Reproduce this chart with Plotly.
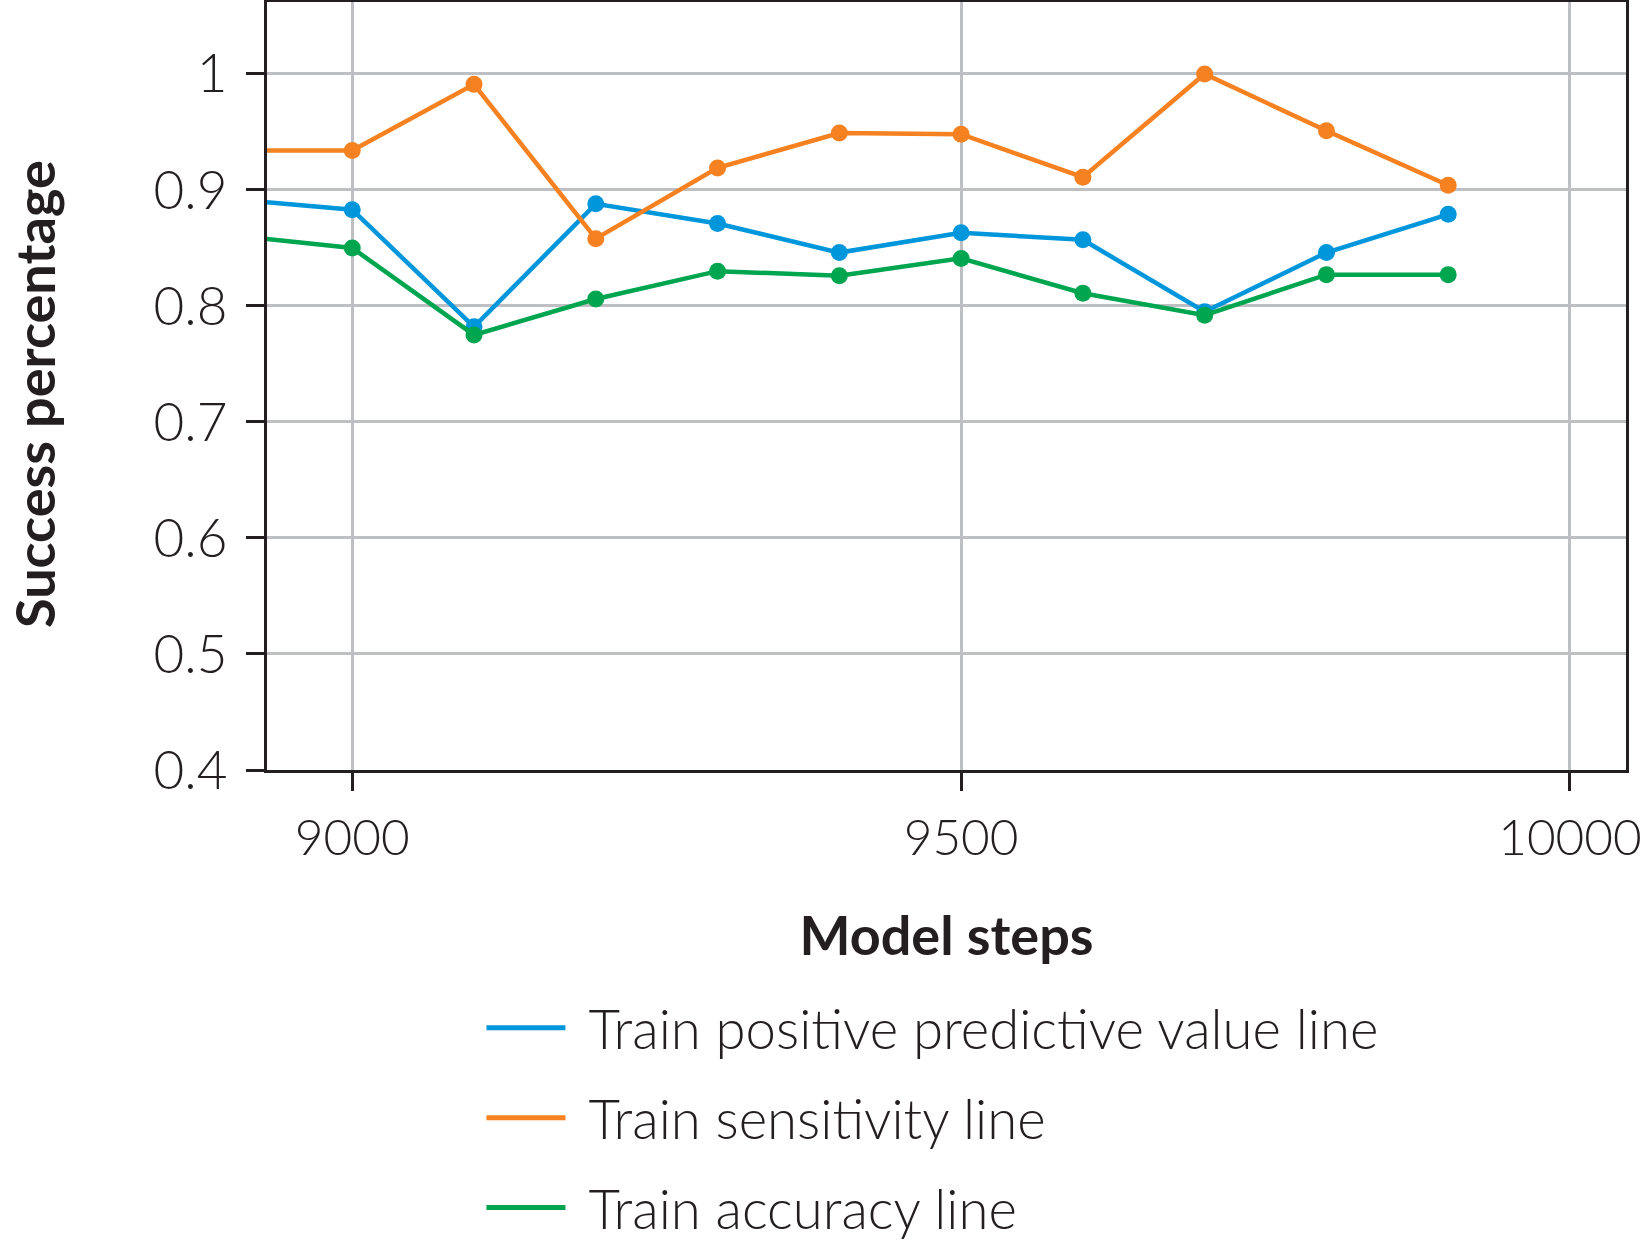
import plotly.graph_objects as go

steps = [8900, 9000, 9100, 9200, 9300, 9400, 9500, 9600, 9700, 9800, 9900]
ppv = [0.892, 0.883, 0.782, 0.888, 0.871, 0.846, 0.863, 0.857, 0.795, 0.846, 0.879]
sensitivity = [0.934, 0.934, 0.991, 0.858, 0.919, 0.949, 0.948, 0.911, 1.0, 0.951, 0.904]
accuracy = [0.861, 0.850, 0.775, 0.806, 0.830, 0.826, 0.841, 0.811, 0.792, 0.827, 0.827]

series_names = ["Train positive predictive value line", "Train sensitivity line", "Train accuracy line"]
series_values = [ppv, sensitivity, accuracy]
colors = ["#0096db", "#f68121", "#00a550"]
x_ticks = [9000, 9500, 10000]
x_title = "Model steps"
y_title = "Success percentage"

FONT = "Lato"
TXT = "#231f20"

fig = go.Figure()
for name, vals, col in zip(series_names, series_values, colors):
    fig.add_trace(go.Scatter(
        x=steps, y=vals, mode="lines+markers", showlegend=False,
        line=dict(color=col, width=4.5), marker=dict(color=col, size=17),
        hoverinfo="skip",
    ))
for i, (name, col) in enumerate(zip(series_names, colors)):
    fig.add_trace(go.Scatter(
        x=[None], y=[None], mode="lines", name="\u2004" + name,
        legendgroup=f"g{i}", line=dict(color=col, width=5),
    ))

axis_common = dict(
    showline=True, linecolor=TXT, linewidth=3, mirror=True,
    ticks="outside", ticklen=18, tickwidth=3, tickcolor=TXT,
    showgrid=True, gridcolor="#bebfc3", gridwidth=2.5,
    zeroline=False, automargin=False,
)

fig.update_layout(
    width=1642, height=1244,
    margin=dict(l=267, r=16, t=2, b=474),
    paper_bgcolor="white", plot_bgcolor="white",
    font=dict(family=FONT, color=TXT),
    xaxis=dict(
        range=[8930, 10046], tickvals=x_ticks, tickformat="d",
        ticklabelstandoff=5, ticklabeloverflow="allow",
        tickfont=dict(family=FONT, size=49.5, color=TXT, weight=300),
        title=dict(text=x_title, standoff=52,
                   font=dict(family=FONT, size=54, color=TXT, weight=700)),
        **axis_common,
    ),
    yaxis=dict(
        range=[0.4, 1.062], tick0=0.4, dtick=0.1,
        ticklabelstandoff=8,
        tickfont=dict(family=FONT, size=53, color=TXT, weight=300),
        **axis_common,
    ),
    legend=dict(
        x=0.1578, xref="paper", y=0.2075, yref="container",
        xanchor="left", yanchor="top",
        orientation="v", itemwidth=79, tracegroupgap=16,
        font=dict(family=FONT, size=54.5, color=TXT, weight=300),
        bgcolor="rgba(0,0,0,0)",
    ),
    annotations=[dict(
        text=y_title, textangle=-90, showarrow=False,
        xref="paper", yref="paper", x=-0.1707, y=0.4896,
        xanchor="center", yanchor="middle",
        font=dict(family=FONT, size=54, color=TXT, weight=700),
    )],
)

fig.write_html("out.html", config={"displayModeBar": False},
               post_script="document.body.style.margin='0';")
